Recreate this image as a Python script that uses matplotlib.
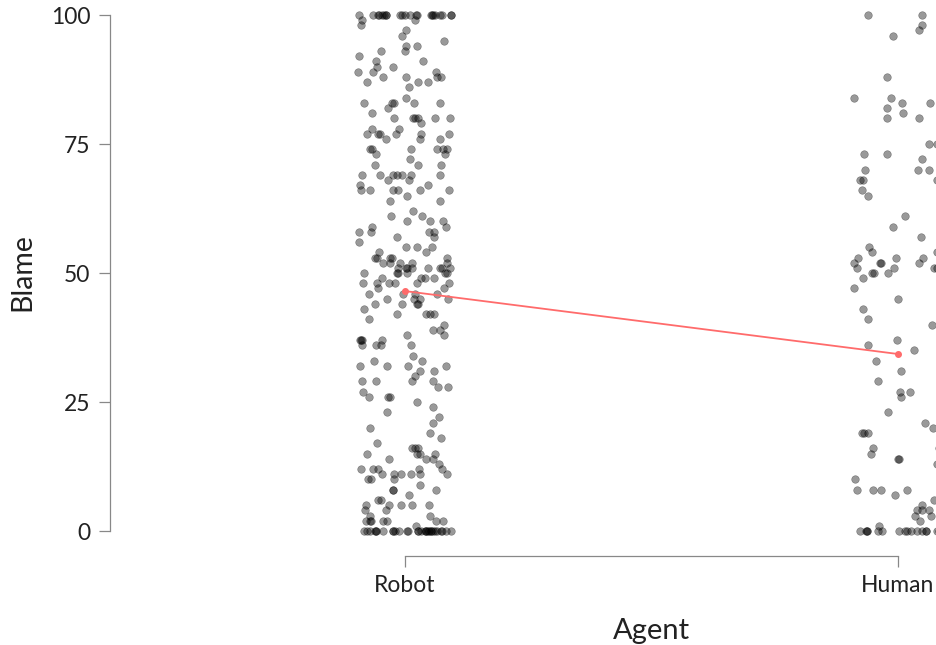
import numpy as np
import matplotlib
matplotlib.use("Agg")
import matplotlib.pyplot as plt

plt.rcParams['font.family'] = ['Lato', 'DejaVu Sans']

agents = ["Robot", "Human"]

# blame values: (value, how many points)
robot_counts = [
    (100, 22), (99, 2), (98, 1), (97, 1), (96, 1), (95, 1), (94, 2), (93, 2),
    (92, 1), (91, 2), (90, 2), (89, 3), (88, 4), (87, 3), (86, 1), (84, 1),
    (83, 5), (82, 1), (81, 1), (80, 6), (79, 1), (78, 2), (77, 6), (76, 3),
    (74, 6), (73, 2), (72, 1), (71, 3), (69, 7), (68, 2), (67, 2), (66, 6),
    (65, 1), (64, 2), (62, 1), (61, 2), (60, 3), (59, 2), (58, 4), (57, 2),
    (56, 1), (55, 3), (54, 2), (53, 5), (52, 5), (51, 8), (50, 6), (49, 4),
    (48, 6), (47, 2), (46, 4), (45, 4), (44, 4), (43, 1), (42, 4), (41, 1),
    (40, 1), (39, 2), (38, 2), (37, 4), (36, 4), (34, 1), (33, 2), (32, 4),
    (31, 2), (30, 1), (29, 4), (28, 2), (27, 1), (26, 3), (25, 1), (24, 1),
    (23, 1), (22, 1), (21, 1), (20, 1), (19, 1), (18, 1), (17, 1), (16, 3),
    (15, 4), (14, 3), (13, 1), (12, 5), (11, 6), (10, 3), (9, 1), (8, 3),
    (7, 1), (6, 2), (5, 5), (4, 2), (3, 2), (2, 7), (1, 1), (0, 30),
]
human_counts = [
    (100, 2), (98, 1), (97, 1), (96, 1), (88, 1), (84, 2), (83, 2), (82, 1),
    (81, 1), (80, 2), (75, 2), (73, 2), (72, 1), (71, 1), (70, 3), (68, 3),
    (67, 1), (66, 1), (65, 1), (61, 1), (59, 1), (57, 1), (55, 1), (54, 2),
    (53, 3), (52, 4), (51, 5), (50, 3), (49, 1), (47, 1), (45, 1), (43, 1),
    (41, 1), (40, 1), (37, 1), (36, 1), (35, 1), (33, 1), (31, 1), (29, 1),
    (27, 2), (26, 1), (23, 1), (21, 1), (20, 1), (19, 3), (18, 1), (16, 2),
    (15, 2), (14, 2), (13, 1), (10, 1), (8, 4), (7, 1), (6, 1), (5, 1),
    (4, 3), (3, 2), (2, 1), (1, 1), (0, 18),
]
mean_blame = [46.5, 34.3]

yticks = [0, 25, 50, 75, 100]


def expand(counts):
    return np.array([v for v, n in counts for _ in range(n)], dtype=float)


robot = expand(robot_counts)
human = expand(human_counts)

fig = plt.figure(figsize=(9.36, 6.45), dpi=100)
# axes runs past the right edge, the original image is cropped there
ax = fig.add_axes([110 / 936, 89 / 645, 1006 / 936, 556 / 645])

rng = np.random.default_rng(7)
for i, vals in enumerate([robot, human]):
    x = i + rng.uniform(-0.095, 0.095, len(vals))
    ax.scatter(x, vals, s=30, color="black", alpha=0.4, linewidths=0.4,
               edgecolors="black", zorder=2)

ax.plot([0, 1], mean_blame, color="#ff6b6b", lw=1.3, marker="o", ms=4,
        zorder=3)

ax.set_xlim(-0.598, 1.442)
ax.set_ylim(-4.845, 102.91)

for s in ["top", "right"]:
    ax.spines[s].set_visible(False)
for s in ["left", "bottom"]:
    ax.spines[s].set_color("#888888")
    ax.spines[s].set_linewidth(0.9)
ax.spines["left"].set_bounds(0, 100)
ax.spines["bottom"].set_bounds(0, 1)

ax.set_yticks(yticks)
ax.set_xticks([0, 1])
ax.set_xticklabels(agents)
ax.tick_params(axis="both", length=8, width=0.9, color="#888888",
               labelsize=16.5, labelcolor="#222222", pad=6)

ax.set_ylabel("Blame", fontsize=20.5, color="#222222")
ax.set_xlabel("Agent", fontsize=21, color="#222222")
ax.yaxis.set_label_coords(-0.0745, 0.51)
ax.xaxis.set_label_coords(0.538, -0.112)

fig.savefig("out.png", dpi=100)
